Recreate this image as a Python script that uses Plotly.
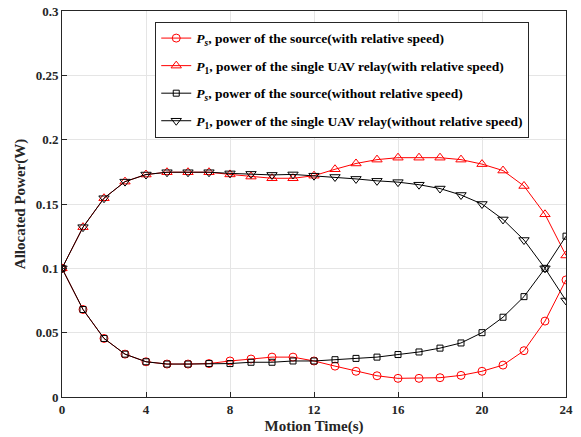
import plotly.graph_objects as go

t = list(range(25))
ps_with = [0.1, 0.068, 0.0455, 0.0333, 0.0274, 0.0256, 0.0256, 0.026, 0.028, 0.0295, 0.031, 0.031, 0.028,
           0.024, 0.020, 0.0165, 0.0145, 0.0145, 0.015, 0.0168, 0.020, 0.0248, 0.036, 0.059, 0.091]
p1_with = [0.1, 0.132, 0.1545, 0.1674, 0.1729, 0.1747, 0.1747, 0.1747, 0.173, 0.1713, 0.170, 0.170, 0.172,
           0.177, 0.1815, 0.1845, 0.186, 0.186, 0.186, 0.1845, 0.181, 0.176, 0.164, 0.142, 0.110]
ps_without = [0.1, 0.068, 0.0455, 0.0333, 0.0274, 0.0256, 0.0256, 0.026, 0.026, 0.027, 0.027, 0.028, 0.028,
              0.029, 0.030, 0.031, 0.033, 0.035, 0.038, 0.042, 0.050, 0.062, 0.078, 0.1, 0.125]
p1_without = [0.1, 0.132, 0.1545, 0.1674, 0.1729, 0.1747, 0.1747, 0.1747, 0.1738, 0.1734, 0.1726, 0.173, 0.172,
              0.171, 0.1695, 0.168, 0.167, 0.165, 0.162, 0.157, 0.150, 0.138, 0.122, 0.1, 0.075]

names = [
    "<i>P</i><sub><i>s</i></sub>, power of the source(with relative speed)",
    "<i>P</i><sub>1</sub>, power of the single UAV relay(with relative speed)",
    "<i>P</i><sub><i>s</i></sub>, power of the source(without relative speed)",
    "<i>P</i><sub>1</sub>, power of the single UAV relay(without relative speed)",
]

fig = go.Figure()
series = [
    (ps_with, "red", "circle-open", 8),
    (p1_with, "red", "triangle-up-open", 9),
    (ps_without, "black", "square-open", 6),
    (p1_without, "black", "triangle-down-open", 9),
]
for i, ((vals, col, sym, sz), nm) in enumerate(zip(series, names)):
    fig.add_trace(go.Scatter(
        x=t, y=vals, mode="lines+markers", name=nm, legendgroup=f"g{i}",
        line=dict(color=col, width=1),
        marker=dict(symbol=sym, size=sz, color=col, line=dict(width=1, color=col)),
    ))

font_fam = "Liberation Serif, Times New Roman, serif"
fig.update_layout(
    width=581, height=437,
    margin=dict(l=62, r=15, t=11, b=40),
    paper_bgcolor="white", plot_bgcolor="white",
    font=dict(family=font_fam, size=13, color="#262626"),
    showlegend=True,
    legend=dict(
        x=0.185, y=0.972, xanchor="left", yanchor="top",
        bgcolor="white", bordercolor="#262626", borderwidth=1,
        font=dict(family=font_fam, size=13.5, color="black", weight="bold"),
        itemwidth=30, tracegroupgap=7,
    ),
)
fig.update_xaxes(
    range=[0, 24], tickvals=[0, 4, 8, 12, 16, 20, 24],
    showgrid=True, gridcolor="#e5e5e5", gridwidth=1,
    showline=True, linecolor="#262626", linewidth=1, mirror=True,
    ticks="inside", ticklen=5, tickcolor="#262626",
    tickfont=dict(family=font_fam, size=13, weight="bold"),
    title=dict(text="<b>Motion Time(s)</b>", font=dict(family=font_fam, size=15), standoff=4),
    zeroline=False, automargin=False,
)
fig.update_yaxes(
    range=[0, 0.3], tickvals=[0, 0.05, 0.1, 0.15, 0.2, 0.25, 0.3],
    ticktext=["0", "0.05", "0.1", "0.15", "0.2", "0.25", "0.3"],
    showgrid=True, gridcolor="#e5e5e5", gridwidth=1,
    showline=True, linecolor="#262626", linewidth=1, mirror=True,
    ticks="inside", ticklen=5, tickcolor="#262626",
    tickfont=dict(family=font_fam, size=13, weight="bold"),
    title=dict(text="<b>Allocated Power(W)</b>", font=dict(family=font_fam, size=15), standoff=6),
    zeroline=False, automargin=False,
)
fig.write_html("out.html")
